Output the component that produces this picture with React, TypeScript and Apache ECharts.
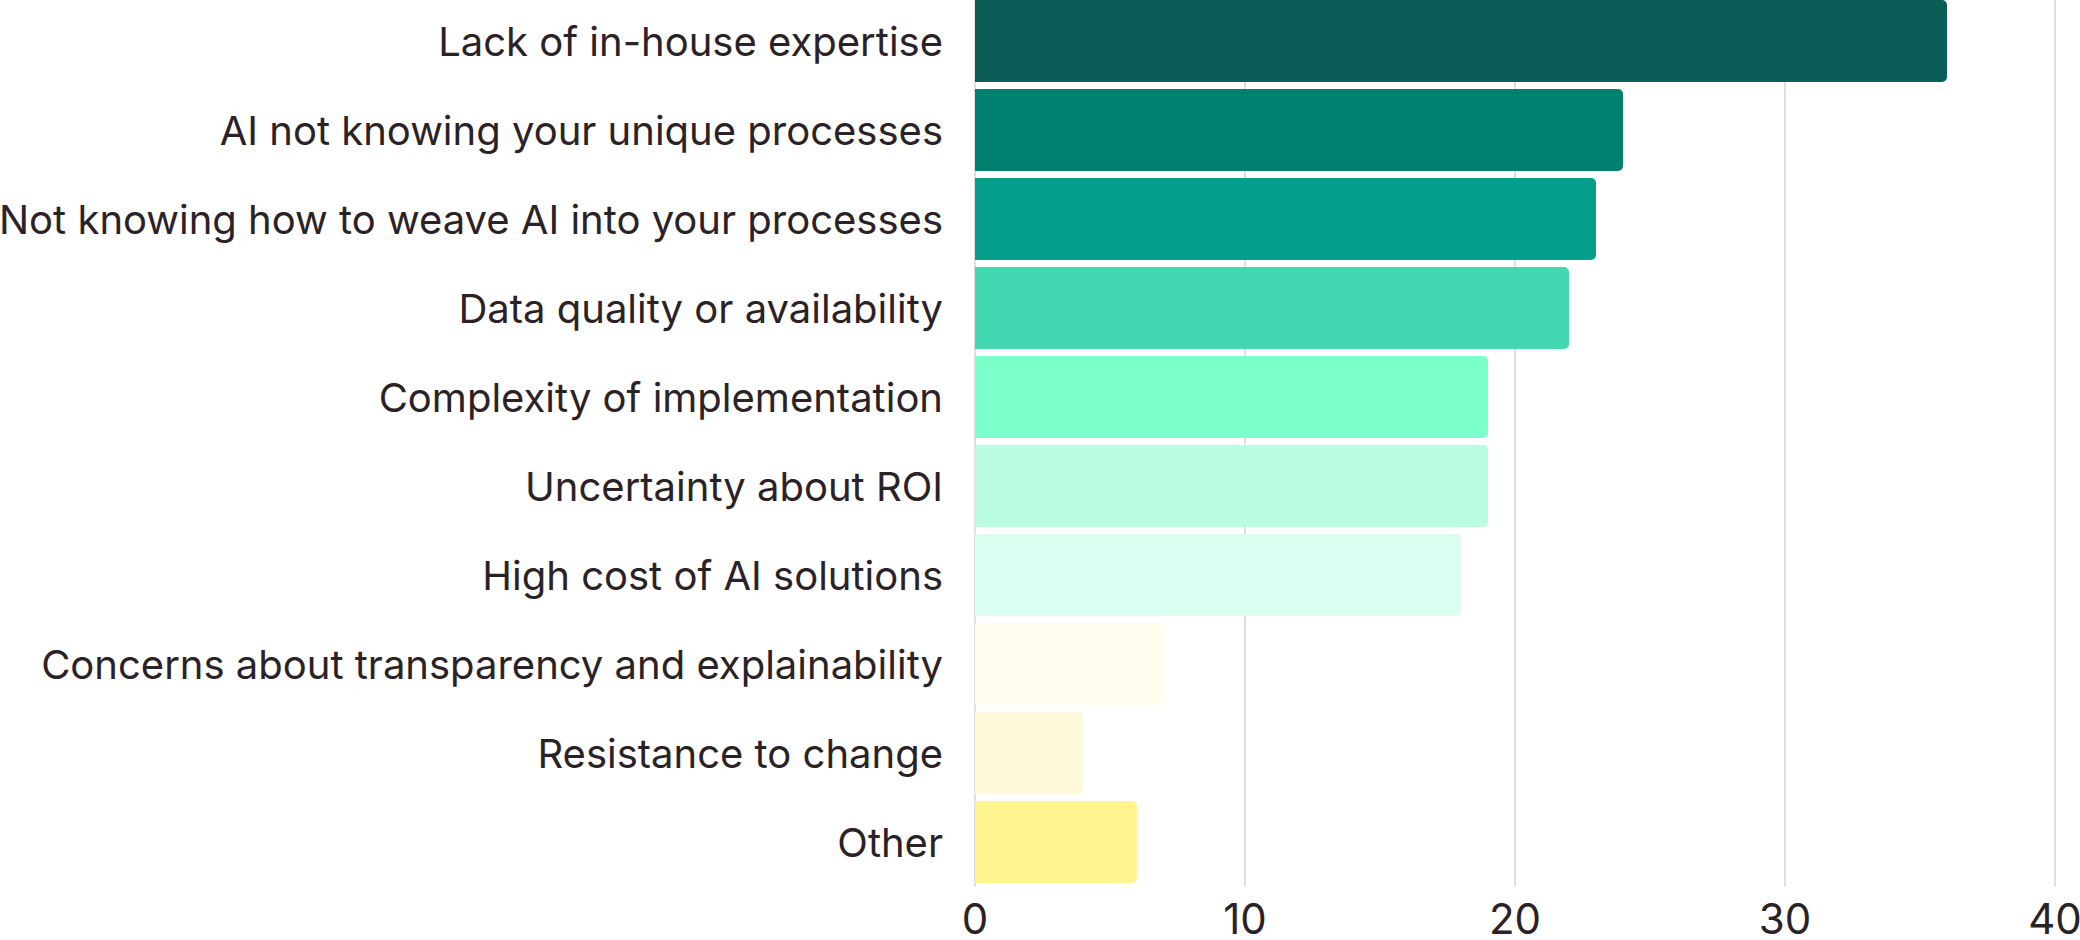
import React, { useEffect, useRef } from "react";
import * as echarts from "echarts";

const categories = [
  "Lack of in-house expertise",
  "AI not knowing your unique processes",
  "Not knowing how to weave AI into your processes",
  "Data quality or availability",
  "Complexity of implementation",
  "Uncertainty about ROI",
  "High cost of AI solutions",
  "Concerns about transparency and explainability",
  "Resistance to change",
  "Other",
];
const values = [36, 24, 23, 22, 19, 19, 18, 7, 4, 6];
const barColors = [
  "#0b5e57",
  "#008070",
  "#049e8b",
  "#44d8b2",
  "#7bffcb",
  "#bbfde3",
  "#dafef0",
  "#fffded",
  "#fffad9",
  "#fff48f",
];
const xTicks = { min: 0, max: 40, interval: 10 };

export default function App() {
  const ref = useRef<HTMLDivElement>(null);
  useEffect(() => {
    document.body.style.margin = "0";
    if (!ref.current) return;
    const chart = echarts.init(ref.current, undefined, { renderer: "svg" });
    chart.setOption({
      animation: false,
      backgroundColor: "#ffffff",
      textStyle: { fontFamily: "Inter" },
      grid: {
        left: 975,
        right: 25,
        top: -3.5,
        bottom: 53.5,
        containLabel: false,
        outerBoundsMode: "none",
      },
      xAxis: {
        type: "value",
        min: xTicks.min,
        max: xTicks.max,
        interval: xTicks.interval,
        axisLine: { show: false },
        axisTick: { show: false },
        splitLine: { show: true, lineStyle: { color: "#d4d4d4", width: 1.5 } },
        axisLabel: {
          color: "#2a2226",
          fontSize: 42,
          lineHeight: 34,
          fontFamily: "Inter",
          margin: 15,
        },
      },
      yAxis: {
        type: "category",
        inverse: true,
        data: categories,
        axisLine: { show: false },
        axisTick: { show: false },
        axisLabel: { color: "#2a2226", fontSize: 40, fontFamily: "Inter", margin: 32 },
      },
      series: [
        {
          type: "bar",
          barCategoryGap: "7.9%",
          data: values.map((v, i) => ({
            value: v,
            itemStyle: { color: barColors[i], borderRadius: [0, 5, 5, 0] },
          })),
        },
      ],
    });
    return () => chart.dispose();
  }, []);
  return <div ref={ref} style={{ width: 2080, height: 940 }} />;
}
